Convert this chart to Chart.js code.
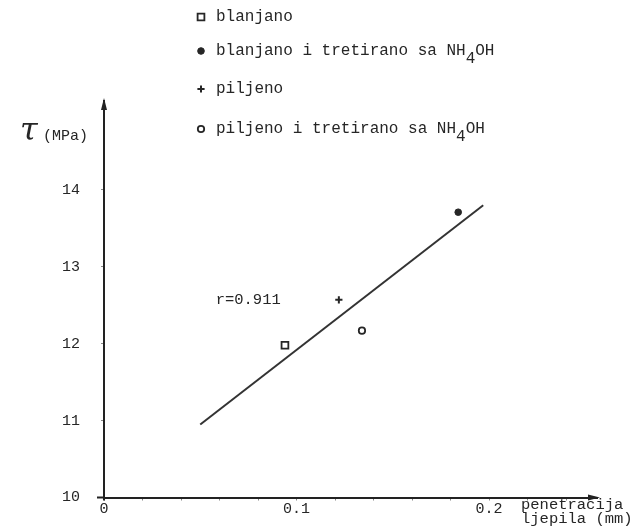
<!DOCTYPE html>
<html><head><meta charset="utf-8">
<script src="https://cdn.jsdelivr.net/npm/chart.js@4.4.1/dist/chart.umd.min.js"></script>
<style>html,body{margin:0;padding:0;background:#fff}#wrap{width:634px;height:530px;position:relative}</style>
</head><body><div id="wrap"><canvas id="c" width="634" height="530"></canvas></div>
<script>
// ---- data ----
const categories = ['blanjano', 'blanjano i tretirano sa NH₄OH', 'piljeno', 'piljeno i tretirano sa NH₄OH'];
const penetration = [0.094, 0.184, 0.122, 0.134];      // mm
const shearStrength = [11.98, 13.71, 12.57, 12.17];    // MPa
const fitPenetration = [0.050, 0.197];
const fitShear = [10.95, 13.80];
const xTickLabels = {'0': '0', '0.1': '0.1', '0.2': '0.2'};
const yTickValues = [10, 11, 12, 13, 14];
const correlationText = 'r=0.911';
const correlationAt = [0.058, 12.57];
const yAxisTitle = ['τ', '(MPa)'];
const xAxisTitle = ['penetracija', 'ljepila (mm)'];

// ---- styles ----
const INK = '#262626';
const MONO = 'Liberation Mono';
const markerStyles = [
  {pointStyle: 'rect', radius: 4.8, backgroundColor: '#fff', borderColor: INK, borderWidth: 1.8},
  {pointStyle: 'circle', radius: 3.3, backgroundColor: INK, borderColor: INK, borderWidth: 1},
  {pointStyle: 'cross', radius: 3.6, backgroundColor: INK, borderColor: INK, borderWidth: 2},
  {pointStyle: 'circle', radius: 3.2, backgroundColor: '#fff', borderColor: INK, borderWidth: 1.8}
];
const legendRowY = [17, 51, 89, 129];

const datasets = categories.map((label, i) => ({
  label,
  data: [{x: penetration[i], y: shearStrength[i]}],
  pointStyle: markerStyles[i].pointStyle,
  pointRadius: markerStyles[i].radius,
  pointHoverRadius: markerStyles[i].radius,
  pointBackgroundColor: markerStyles[i].backgroundColor,
  pointBorderColor: markerStyles[i].borderColor,
  pointBorderWidth: markerStyles[i].borderWidth,
  showLine: false
}));
datasets.push({
  label: 'fit',
  type: 'line',
  data: fitPenetration.map((x, i) => ({x, y: fitShear[i]})),
  borderColor: '#333',
  borderWidth: 2,
  pointRadius: 0,
  fill: false
});

function drawSubText(ctx, text, x, y) {
  // '₄' rendered as a lowered full-size digit (typewriter style)
  const parts = text.split('₄');
  let cx = x;
  parts.forEach((p, i) => {
    ctx.fillText(p, cx, y);
    cx += ctx.measureText(p).width;
    if (i < parts.length - 1) {
      ctx.fillText('4', cx, y + 8);
      cx += ctx.measureText('4').width;
    }
  });
}

const decorPlugin = {
  id: 'decor',
  afterDraw(chart) {
    const ctx = chart.ctx;
    const {left, right, top, bottom} = chart.chartArea;
    const xs = chart.scales.x, ys = chart.scales.y;
    ctx.save();
    ctx.strokeStyle = '#222';
    ctx.fillStyle = '#222';
    ctx.lineWidth = 2;
    ctx.beginPath();
    ctx.moveTo(left - 7, bottom); ctx.lineTo(left, bottom);
    ctx.moveTo(left, bottom); ctx.lineTo(left, bottom + 3);
    ctx.stroke();
    ctx.beginPath();
    ctx.moveTo(left, top - 3); ctx.lineTo(left - 3, top + 9); ctx.lineTo(left + 3, top + 9); ctx.closePath();
    ctx.fill();
    ctx.beginPath();
    ctx.moveTo(right + 3, bottom); ctx.lineTo(right - 9, bottom - 3); ctx.lineTo(right - 9, bottom + 3); ctx.closePath();
    ctx.fill();

    // legend
    ctx.textBaseline = 'middle';
    ctx.textAlign = 'left';
    ctx.font = '16px "' + MONO + '"';
    chart.data.datasets.slice(0, categories.length).forEach((ds, i) => {
      const y = legendRowY[i];
      const m = markerStyles[i];
      ctx.fillStyle = m.backgroundColor;
      ctx.strokeStyle = m.borderColor;
      ctx.lineWidth = m.borderWidth;
      Chart.helpers.drawPoint(ctx, {pointStyle: m.pointStyle, radius: m.radius, borderWidth: m.borderWidth, rotation: 0}, 201, y);
      ctx.fillStyle = INK;
      drawSubText(ctx, ds.label, 216, y);
    });

    // correlation annotation
    ctx.fillStyle = INK;
    ctx.font = '15.5px "' + MONO + '"';
    ctx.fillText(correlationText, xs.getPixelForValue(correlationAt[0]), ys.getPixelForValue(correlationAt[1]));

    // y axis title
    ctx.font = 'italic 32px "DejaVu Serif"';
    ctx.fillText(yAxisTitle[0], 20, 132);
    ctx.font = '15px "' + MONO + '"';
    ctx.fillText(yAxisTitle[1], 43, 136);

    // x axis title
    ctx.font = '15.5px "' + MONO + '"';
    ctx.fillText(xAxisTitle[0], 521, 505);
    ctx.fillText(xAxisTitle[1], 521, 519);
    ctx.restore();
  }
};

new Chart(document.getElementById('c'), {
  type: 'scatter',
  data: {datasets},
  options: {
    responsive: false,
    animation: false,
    events: [],
    layout: {padding: {left: 0, top: 101, right: 37, bottom: 0}},
    plugins: {legend: {display: false}, tooltip: {enabled: false}},
    scales: {
      x: {
        type: 'linear', min: 0, max: 0.2561, position: 'bottom',
        border: {color: '#222', width: 2},
        grid: {drawOnChartArea: false, drawTicks: true, tickLength: 3, color: '#888'},
        ticks: {
          stepSize: 0.02, includeBounds: false, autoSkip: false, maxRotation: 0, minRotation: 0,
          padding: 0, color: INK, font: {family: MONO, size: 15},
          callback: v => xTickLabels[String(Math.round(v * 100) / 100)] || ''
        },
        afterFit: s => { s.height = 32.5; }
      },
      y: {
        type: 'linear', min: 10, max: 15.156,
        border: {color: '#222', width: 2},
        grid: {drawOnChartArea: false, drawTicks: true, tickLength: 3, color: '#888'},
        ticks: {padding: 21, color: INK, font: {family: MONO, size: 15}},
        afterBuildTicks: s => { s.ticks = yTickValues.map(v => ({value: v})); },
        afterFit: s => { s.width = 104; }
      }
    }
  },
  plugins: [decorPlugin]
});
</script>
</body></html>
